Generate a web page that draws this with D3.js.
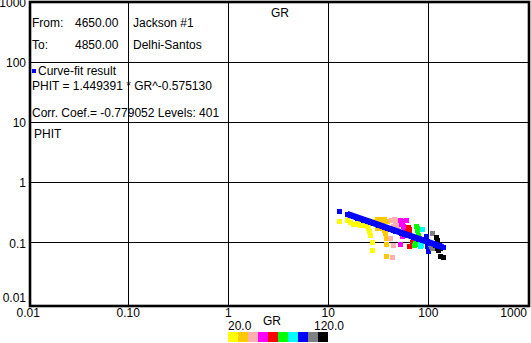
<!DOCTYPE html>
<html><head><meta charset="utf-8">
<script src="https://cdn.jsdelivr.net/npm/d3@7"></script>
<style>
body{margin:0;background:#fff}
svg{display:block}
text{font-family:"Liberation Sans",Arial,sans-serif;font-size:12px;fill:#000}
</style>
</head><body>
<svg id="c" width="531" height="343"></svg>
<script>
// ---- data ----
const xTicks = [0.01, 0.1, 1, 10, 100, 1000];
const xTickLabels = ["0.01", "0.10", "1", "10", "100", "1000"];
const yTicks = [0.01, 0.1, 1, 10, 100, 1000];
const yTickLabels = ["0.01", "0.1", "1", "10", "100", "1000"];

const colorBreaks = [30, 40, 50, 60, 70, 80, 90, 100, 110];
const binColors = ["#ffff00", "#ffc800", "#ffafaf", "#ff00ff", "#ff0000", "#00ff00", "#00ffff", "#0000ff", "#808080", "#000000"];
const colorMin = "20.0", colorMax = "120.0";

const grValues = [
  // ~yellow
  12.5, 15.1, 16.1, 17.4, 18.3, 19.5, 20.3, 21.6, 22.4, 23.6, 24.6, 24.9, 25.5, 26.5, 26.5, 21.9, 24.6, 27.6, 26.5, 19.1,
  // ~orange
  30.2, 31.6, 35.2, 30.5, 33.4, 31.6, 35.2, 36.1, 36.6, 36.6, 36.9, 30.2, 37.5, 34.0,
  // ~pink
  41.0, 42.0, 45.4, 47.9, 41.1, 43.7, 40.4, 43.0, 42.0, 47.2, 44.0, 46.0,
  // ~magenta
  50.9, 58.5, 52.1, 54.2, 55.9, 52.9, 50.9, 57.2, 53.0,
  // ~red
  61.7, 60.5, 63.1, 65.2, 68.2, 63.1, 66.7, 62.0,
  // ~green
  73.6, 74.8, 77.7, 79.0, 71.9, 74.8, 70.3, 76.0,
  // ~cyan
  83.9, 81.0, 82.0, 80.5,
  // ~blue
  92.7, 94.2, 95.5, 97.8,
  // ~gray
  105.6, 101.6, 105.6, 103.2,
  // ~black
  115.9, 120.3, 114.0, 118.5, 123.0, 128.0, 128.0, 136.0, 125.0
];
const phitValues = [
  0.230, 0.238, 0.224, 0.210, 0.207, 0.215, 0.202, 0.207, 0.197, 0.189, 0.178, 0.156, 0.137, 0.1025, 0.0753, 0.245, 0.245, 0.230, 0.215, 0.230,
  0.254, 0.254, 0.254, 0.215, 0.202, 0.178, 0.167, 0.147, 0.121, 0.096, 0.0599, 0.178, 0.230, 0.238,
  0.245, 0.238, 0.224, 0.210, 0.178, 0.189, 0.121, 0.0937, 0.0577, 0.178, 0.250, 0.240,
  0.245, 0.238, 0.210, 0.189, 0.167, 0.129, 0.096, 0.178, 0.230,
  0.185, 0.156, 0.147, 0.129, 0.118, 0.0879, 0.106, 0.170,
  0.189, 0.178, 0.137, 0.121, 0.0998, 0.096, 0.0937, 0.165,
  0.171, 0.1025, 0.0937, 0.0879,
  0.129, 0.0998, 0.0879, 0.0726,
  0.147, 0.096, 0.0824, 0.0879,
  0.126, 0.112, 0.0937, 0.084, 0.078, 0.0824, 0.0599, 0.0577, 0.095
];

const fitCoef = 1.449391, fitExp = -0.575130;
const fitSpan = [15.1, 137];

const headerRows = [
  ["From:", "4650.00", "Jackson #1"],
  ["To:", "4850.00", "Delhi-Santos"]
];
const legendLabel = "Curve-fit result";
const fitText = "PHIT = 1.449391 * GR^-0.575130";
const corrText = "Corr. Coef.= -0.779052 Levels: 401";
const yTitle = "PHIT", xTitle = "GR";

// ---- drawing ----
const svg = d3.select("#c");
const L = 30, R = 529, T = 2, B = 306;
const x = d3.scaleLog().domain([0.01, 1000]).range([29.3, 529.3]);
const y = d3.scaleLog().domain([0.01, 1000]).range([303.2, 2.4]);
const color = d3.scaleThreshold().domain(colorBreaks).range(binColors);
const fit = g => fitCoef * Math.pow(g, fitExp);

svg.append("rect").attr("width", 531).attr("height", 343).attr("fill", "#fff");

// grid
const grid = svg.append("g").attr("shape-rendering", "crispEdges").attr("stroke", "#000").attr("stroke-width", 1);
grid.selectAll("line.v").data(xTicks.slice(1, -1)).join("line")
  .attr("x1", d => Math.round(x(d)) - 0.5).attr("x2", d => Math.round(x(d)) - 0.5)
  .attr("y1", T).attr("y2", B);
grid.selectAll("line.h").data(yTicks.slice(1, -1)).join("line")
  .attr("y1", d => Math.round(y(d)) - 0.5).attr("y2", d => Math.round(y(d)) - 0.5)
  .attr("x1", L).attr("x2", R);

// points
const pts = grValues.map((g, i) => ({ g, p: phitValues[i] }));
svg.append("g").attr("shape-rendering", "crispEdges").selectAll("rect").data(pts).join("rect")
  .attr("x", d => Math.round(x(d.g)) - 2.5).attr("y", d => Math.round(y(d.p)) - 2.5)
  .attr("width", 5).attr("height", 5).attr("fill", d => color(d.g));

// fit
const fitG = svg.append("g");
fitG.append("path")
  .attr("d", d3.line().x(d => x(d)).y(d => y(fit(d)))(fitSpan))
  .attr("stroke", "#0000ff").attr("stroke-width", 6.3).attr("fill", "none");
fitG.selectAll("rect").data(grValues).join("rect")
  .attr("shape-rendering", "crispEdges")
  .attr("x", d => Math.round(x(d)) - 2.5).attr("y", d => Math.round(y(fit(d))) - 2.5)
  .attr("width", 5).attr("height", 5).attr("fill", "#0000ff");

// frame
svg.append("rect").attr("x", L).attr("y", T).attr("width", R - L).attr("height", B - T)
  .attr("fill", "none").attr("stroke", "#000").attr("stroke-width", 2.6);

// axis labels
svg.selectAll("text.yl").data(yTicks).join("text")
  .attr("x", 26).attr("y", d => Math.min(y(d) + 4.5, 302))
  .attr("text-anchor", "end").text((d, i) => yTickLabels[i]);
svg.selectAll("text.xl").data(xTicks).join("text")
  .attr("x", (d, i) => i === xTicks.length - 1 ? 527 : x(d) - 1)
  .attr("y", 317)
  .attr("text-anchor", (d, i) => i === xTicks.length - 1 ? "end" : "middle")
  .text((d, i) => xTickLabels[i]);

// info text
const rowsY = [27, 49];
headerRows.forEach((r, i) => {
  svg.append("text").attr("x", 32).attr("y", rowsY[i]).text(r[0]);
  svg.append("text").attr("x", 75).attr("y", rowsY[i]).text(r[1]);
  svg.append("text").attr("x", 133).attr("y", rowsY[i]).text(r[2]);
});
svg.append("rect").attr("x", 32).attr("y", 69).attr("width", 4).attr("height", 4).attr("fill", "#0000ff");
svg.append("text").attr("x", 38).attr("y", 75).text(legendLabel);
svg.append("text").attr("x", 32).attr("y", 90).text(fitText);
svg.append("text").attr("x", 32).attr("y", 117).text(corrText);
svg.append("text").attr("x", 34).attr("y", 138).text(yTitle);
svg.append("text").attr("x", 280).attr("y", 17).attr("text-anchor", "middle").text(xTitle);

// colour bar
const cb = svg.append("g").attr("shape-rendering", "crispEdges");
cb.selectAll("rect").data(binColors).join("rect")
  .attr("x", (d, i) => 228 + i * 10).attr("y", 332).attr("width", 10).attr("height", 10).attr("fill", d => d);
svg.append("text").attr("x", 228).attr("y", 330).text(colorMin);
svg.append("text").attr("x", 344).attr("y", 330).attr("text-anchor", "end").text(colorMax);
svg.append("text").attr("x", 272).attr("y", 325).attr("text-anchor", "middle").text(xTitle);
</script>
</body></html>
